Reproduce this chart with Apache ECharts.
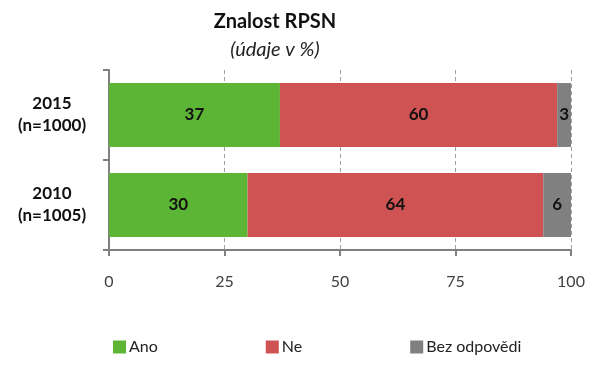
<!DOCTYPE html>
<html><head><meta charset="utf-8">
<script src="https://cdn.jsdelivr.net/npm/echarts@6/dist/echarts.min.js"></script>
<style>html,body{margin:0;padding:0;background:#fff}#c{width:610px;height:379px}</style>
</head><body><div id="c"></div>
<script>
const categories = ['2010\n(n=1005)', '2015\n(n=1000)'];
const seriesNames = ['Ano', 'Ne', 'Bez odpovědi'];
const ano = [30, 37];
const ne = [64, 60];
const bez = [6, 3];
const xTicks = [0, 25, 50, 75, 100];

const colors = ['#5db536', '#d05353', '#808080'];
const FONT = 'Lato';
const chart = echarts.init(document.getElementById('c'));
const values = [ano, ne, bez];
chart.setOption({
  animation: false,
  graphic: [
    {type: 'text', x: 275, y: 22, style: {text: 'Znalost RPSN', textAlign: 'center', textVerticalAlign: 'middle', fontFamily: FONT, fontSize: 20, fontWeight: 'bold', fill: '#111'}},
    {type: 'text', x: 275, y: 50, style: {text: '(údaje v %)', textAlign: 'center', textVerticalAlign: 'middle', fontFamily: FONT, fontSize: 20, fontStyle: 'italic', fill: '#222'}}
  ],
  legend: {
    left: 113, top: 339, padding: 0, itemWidth: 13, itemHeight: 13, itemGap: 108,
    icon: 'rect',
    textStyle: {fontFamily: FONT, fontSize: 16, color: '#222', padding: [0,0,0,-2]},
    data: seriesNames
  },
  grid: {left: 109, right: 39, top: 70, bottom: 129},
  xAxis: {
    type: 'value', min: xTicks[0], max: xTicks[xTicks.length-1], interval: 25,
    axisLine: {show: true, lineStyle: {color: '#808080', width: 2}},
    axisTick: {show: true, length: 6, lineStyle: {color: '#808080', width: 2}},
    axisLabel: {fontFamily: FONT, fontSize: 16, color: '#404040', margin: 24},
    splitLine: {show: true, lineStyle: {color: '#a0a0a0', type: [4, 3], width: 1}}
  },
  yAxis: {
    type: 'category', data: categories,
    axisLine: {show: true, lineStyle: {color: '#808080', width: 2}},
    axisTick: {show: true, length: 6, lineStyle: {color: '#808080', width: 2}},
    axisLabel: {fontFamily: FONT, fontSize: 17, fontWeight: 'bold', color: '#111', margin: 57, lineHeight: 22, align: 'center'}
  },
  series: seriesNames.map((n, i) => ({
    name: n, type: 'bar', stack: 'a', data: values[i], barCategoryGap: '29%',
    itemStyle: {color: colors[i]},
    label: {show: true, position: 'inside', fontFamily: FONT, fontSize: 17, fontWeight: 'bold', color: '#111'}
  }))
});
</script></body></html>
